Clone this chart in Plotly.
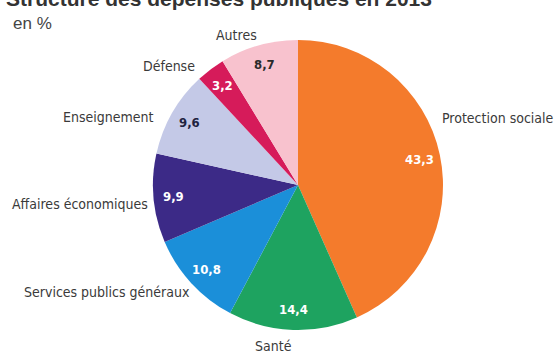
import math
import plotly.graph_objects as go

# Structure of public spending, in %
categories = [
    "Protection sociale",
    "Santé",
    "Services publics généraux",
    "Affaires économiques",
    "Enseignement",
    "Défense",
    "Autres",
]
values = [43.3, 14.4, 10.8, 9.9, 9.6, 3.2, 8.7]
colors = ["#F47B2C", "#1EA360", "#1B8FD9", "#3C2A87", "#C4C9E7", "#D61B5A", "#F8C2CE"]
value_colors = ["white", "white", "white", "white", "#1F2340", "white", "#2A2A2A"]

W, H = 557, 356
CX, CY, R = 298, 185, 145  # pie centre and radius in pixels

NARROW = "Liberation Sans Narrow, Arial Narrow, DejaVu Sans Condensed, sans-serif"


def px(x, y):
    return x / W, 1 - y / H


fig = go.Figure()
fig.add_trace(go.Pie(
    labels=categories,
    values=values,
    sort=False,
    direction="clockwise",
    rotation=0,
    marker=dict(colors=colors, line=dict(width=0)),
    textinfo="none",
    hoverinfo="label+value",
    domain=dict(x=[(CX - R) / W, (CX + R) / W], y=[(H - CY - R) / H, (H - CY + R) / H]),
    showlegend=False,
))

annotations = []

# value labels inside each slice, placed along the slice mid-angle
total = sum(values)
cum = 0.0
for v, tc in zip(values, value_colors):
    mid = (cum + v / 2) / total * 2 * math.pi
    cum += v
    r = 0.86 * R
    x, y = px(CX + r * math.sin(mid), CY - r * math.cos(mid))
    annotations.append(dict(
        x=x, y=y, xref="paper", yref="paper", showarrow=False,
        text="<b>" + f"{v:.1f}".replace(".", ",") + "</b>",
        font=dict(family=NARROW, size=13, color=tc),
        xanchor="center", yanchor="middle",
    ))

# category names around the pie
name_pos = [
    (440, 118, "left"),
    (273, 346, "center"),
    (192, 292, "right"),
    (150, 204, "right"),
    (155, 117, "right"),
    (197, 66, "right"),
    (236, 35, "center"),
]
for name, (x0, y0, anchor) in zip(categories, name_pos):
    x, y = px(x0, y0)
    annotations.append(dict(
        x=x, y=y, xref="paper", yref="paper", showarrow=False,
        text=name, font=dict(family=NARROW, size=14, color="#3A3A3A"),
        xanchor=anchor, yanchor="middle",
    ))

# title and unit
x, y = px(4, -1)
annotations.append(dict(
    x=x, y=y, xref="paper", yref="paper", showarrow=False,
    text="<b>Structure des dépenses publiques en 2013</b>",
    font=dict(family="Liberation Sans, Arial, sans-serif", size=21, color="#333333"),
    xanchor="left", yanchor="middle",
))
x, y = px(11, 24)
annotations.append(dict(
    x=x, y=y, xref="paper", yref="paper", showarrow=False,
    text="en %",
    font=dict(family="Liberation Sans, Arial, sans-serif", size=17, color="#444444"),
    xanchor="left", yanchor="middle",
))

fig.update_layout(
    width=W, height=H,
    margin=dict(l=0, r=0, t=0, b=0),
    paper_bgcolor="white",
    plot_bgcolor="white",
    annotations=annotations,
)

fig.write_html("out.html")
